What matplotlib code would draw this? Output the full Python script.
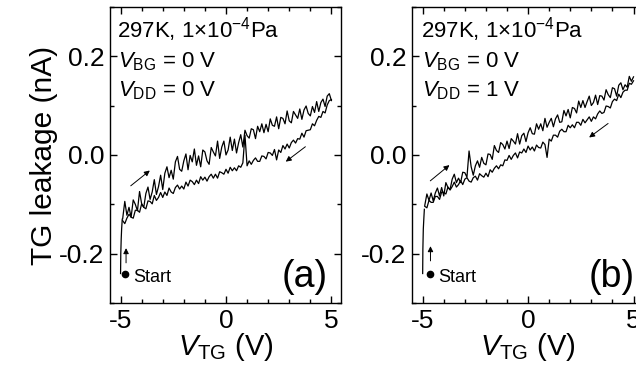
import numpy as np
import matplotlib
matplotlib.use('Agg')
import matplotlib.pyplot as plt
from matplotlib.ticker import MultipleLocator

plt.rcParams['font.family'] = ['Liberation Sans', 'DejaVu Sans']
plt.rcParams['mathtext.fontset'] = 'custom'
plt.rcParams['mathtext.rm'] = 'Liberation Sans'
plt.rcParams['mathtext.it'] = 'Liberation Sans:italic'
plt.rcParams['axes.unicode_minus'] = False

# 전압 스윕 (V), -4.9 ~ 5.0 V, 0.1 V 간격
v_sweep = np.round(np.arange(-4.9, 5.01, 0.1), 2)

# (a) V_DD = 0 V
start_a_x = [-5.0, -4.99, -4.97, -4.95, -4.92]
start_a_y = [-0.240, -0.200, -0.170, -0.150, -0.130]
fwd_a = [-0.129, -0.094, -0.122, -0.106, -0.126, -0.091, -0.100, -0.113, -0.074, -0.099,
         -0.106, -0.078, -0.065, -0.090, -0.075, -0.050, -0.080, -0.064, -0.041, -0.070,
         -0.037, -0.024, -0.046, -0.031, -0.049, -0.014, -0.003, -0.029, -0.033, -0.012,
         0.002, -0.030, -0.001, -0.014, 0.012, -0.021, -0.002, -0.024, 0.010, 0.006,
         -0.012, -0.019, 0.015, 0.006, -0.002, 0.028, -0.007, 0.016, 0.028, 0.000,
         0.010, 0.036, 0.009, 0.032, 0.004, 0.025, 0.041, 0.016, 0.050, 0.039,
         0.034, 0.053, 0.051, 0.033, 0.058, 0.047, 0.063, 0.045, 0.062, 0.047,
         0.073, 0.060, 0.058, 0.077, 0.053, 0.076, 0.074, 0.063, 0.089, 0.069,
         0.065, 0.088, 0.081, 0.074, 0.093, 0.072, 0.091, 0.099, 0.084, 0.079,
         0.098, 0.086, 0.108, 0.088, 0.106, 0.113, 0.098, 0.119, 0.124, 0.110]
rev_a = [-0.133, -0.139, -0.128, -0.120, -0.126, -0.128, -0.112, -0.112, -0.116, -0.099,
         -0.106, -0.109, -0.093, -0.094, -0.099, -0.082, -0.092, -0.086, -0.076, -0.086,
         -0.075, -0.082, -0.067, -0.075, -0.078, -0.066, -0.061, -0.069, -0.063, -0.069,
         -0.055, -0.063, -0.051, -0.054, -0.060, -0.051, -0.058, -0.044, -0.051, -0.045,
         -0.053, -0.044, -0.039, -0.047, -0.039, -0.047, -0.034, -0.036, -0.039, -0.029,
         -0.037, -0.025, -0.032, -0.026, -0.032, -0.022, -0.025, -0.016, 0.040, -0.022,
         -0.012, -0.019, -0.011, -0.006, -0.013, -0.013, -0.002, -0.003, -0.008, 0.005,
         0.004, -0.001, 0.011, -0.010, 0.010, 0.005, 0.019, 0.012, 0.022, 0.014,
         0.025, 0.030, 0.024, 0.033, 0.032, 0.044, 0.036, 0.049, 0.050, 0.051,
         0.063, 0.059, 0.070, 0.078, 0.076, 0.088, 0.085, 0.101, 0.110, 0.112]

# (b) V_DD = 1 V
start_b_x = [-5.0, -4.99, -4.97, -4.94, -4.92]
start_b_y = [-0.240, -0.190, -0.150, -0.125, -0.110]
fwd_b = [-0.102, -0.079, -0.092, -0.077, -0.093, -0.077, -0.067, -0.083, -0.066, -0.083,
         -0.056, -0.066, -0.070, -0.049, -0.039, -0.056, -0.047, -0.056, -0.035, -0.036,
         -0.045, 0.008, -0.024, -0.041, -0.022, -0.012, -0.025, -0.005, -0.017, -0.020,
         0.002, 0.001, -0.009, 0.019, 0.009, 0.005, 0.025, 0.021, 0.012, 0.028,
         0.013, 0.033, 0.028, 0.022, 0.043, 0.022, 0.039, 0.044, 0.027, 0.045,
         0.055, 0.043, 0.042, 0.063, 0.052, 0.063, 0.049, 0.074, 0.056, 0.066,
         0.074, 0.057, 0.073, 0.081, 0.066, 0.067, 0.090, 0.079, 0.092, 0.075,
         0.096, 0.094, 0.085, 0.109, 0.096, 0.110, 0.096, 0.108, 0.119, 0.100,
         0.106, 0.121, 0.102, 0.120, 0.119, 0.111, 0.132, 0.122, 0.116, 0.136,
         0.134, 0.119, 0.141, 0.146, 0.132, 0.142, 0.137, 0.159, 0.149, 0.158]
rev_b = [-0.104, -0.107, -0.092, -0.096, -0.096, -0.084, -0.084, -0.090, -0.075, -0.076,
         -0.079, -0.065, -0.071, -0.064, -0.055, -0.065, -0.060, -0.052, -0.060, -0.049,
         -0.046, -0.053, -0.055, -0.046, -0.043, -0.051, -0.038, -0.042, -0.045, -0.037,
         -0.044, -0.030, -0.035, -0.027, -0.022, -0.028, -0.020, -0.022, -0.010, -0.011,
         -0.001, -0.009, -0.001, 0.004, -0.006, 0.006, 0.004, 0.012, 0.005, 0.018,
         0.010, 0.016, 0.008, 0.020, 0.015, 0.014, 0.026, 0.021, -0.005, 0.032,
         0.028, 0.040, 0.040, 0.036, 0.048, 0.052, 0.047, 0.047, 0.060, 0.055,
         0.061, 0.055, 0.066, 0.066, 0.060, 0.072, 0.065, 0.071, 0.077, 0.068,
         0.077, 0.073, 0.083, 0.089, 0.084, 0.086, 0.099, 0.098, 0.095, 0.108,
         0.113, 0.110, 0.123, 0.116, 0.127, 0.131, 0.131, 0.145, 0.143, 0.150]

panels = [
    dict(start=(start_a_x, start_a_y), fwd=fwd_a, rev=rev_a, vdd='0', tag='(a)',
         pos=[0.173, 0.185, 0.363, 0.797], start_pt=(-4.77, -0.24), start_txt=-4.38,
         up=((-4.74, -0.224), (-4.74, -0.183)),
         arr1=((-4.62, -0.066), (-3.51, -0.028)), arr2=((3.87, 0.020), (2.73, -0.017)),
         tag_x=4.85, txt_x=(-5.15, -5.1)),
    dict(start=(start_b_x, start_b_y), fwd=fwd_b, rev=rev_b, vdd='1', tag='(b)',
         pos=[0.648, 0.185, 0.363, 0.797], start_pt=(-4.66, -0.24), start_txt=-4.26,
         up=((-4.63, -0.220), (-4.63, -0.179)),
         arr1=((-4.74, -0.056), (-3.63, -0.017)), arr2=((3.90, 0.067), (2.79, 0.032)),
         tag_x=5.08, txt_x=(-5.09, -5.04)),
]

fig = plt.figure(figsize=(6.36, 3.72), dpi=100)

for i, p in enumerate(panels):
    ax = fig.add_axes(p['pos'])
    ax.plot(p['start'][0], p['start'][1], color='k', lw=0.9)
    ax.plot(v_sweep, p['fwd'], color='k', lw=0.9)
    ax.plot(v_sweep, p['rev'], color='k', lw=0.9)

    ax.set_xlim(-5.5, 5.45)
    ax.set_ylim(-0.3, 0.3)
    ax.xaxis.set_major_locator(MultipleLocator(5))
    ax.xaxis.set_minor_locator(MultipleLocator(1))
    ax.yaxis.set_major_locator(MultipleLocator(0.2))
    ax.yaxis.set_minor_locator(MultipleLocator(0.1))
    ax.yaxis.set_major_formatter(plt.FormatStrFormatter('%.1f'))
    ax.tick_params(which='both', direction='in', top=True, right=True, labelsize=19, width=1)
    ax.tick_params(which='major', length=5, pad=4)
    ax.tick_params(which='minor', length=3)
    for s in ax.spines.values():
        s.set_linewidth(1.0)

    ax.set_xlabel(r'$V_{\mathrm{TG}}$ (V)', fontsize=21, labelpad=-1)
    if i == 0:
        ax.set_ylabel('TG leakage (nA)', fontsize=21.5, labelpad=1)

    tx0, tx1 = p['txt_x']
    ax.text(tx0, 0.237, r'297K, 1$\times$10$^{\mathrm{-4}}$Pa', fontsize=16)
    ax.text(tx1, 0.178, r'$V_{\mathrm{BG}}$ = 0 V', fontsize=16)
    ax.text(tx1, 0.119, r'$V_{\mathrm{DD}}$ = ' + p['vdd'] + ' V', fontsize=16)

    ax.text(p['tag_x'], -0.268, p['tag'], fontsize=27, ha='right', va='baseline')

    ax.plot(*p['start_pt'], 'o', color='k', ms=4.5)
    ax.text(p['start_txt'], -0.257, 'Start', fontsize=13, va='baseline')

    for a0, a1 in (p['up'], p['arr1'], p['arr2']):
        ax.annotate('', xy=a1, xytext=a0,
                    arrowprops=dict(arrowstyle='-|>', lw=0.7, color='k', mutation_scale=8))

fig.savefig('out.png', dpi=100)
